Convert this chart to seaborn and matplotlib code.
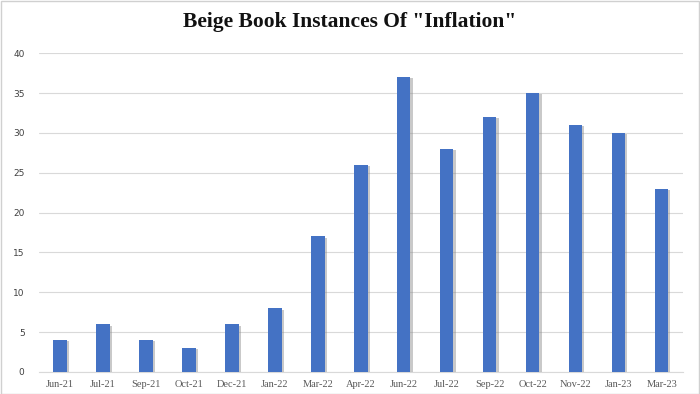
import matplotlib
matplotlib.use("Agg")
import matplotlib.pyplot as plt
import matplotlib.patheffects as pe
import seaborn as sns
import pandas as pd

categories = ["Jun-21", "Jul-21", "Sep-21", "Oct-21", "Dec-21", "Jan-22", "Mar-22",
              "Apr-22", "Jun-22", "Jul-22", "Sep-22", "Oct-22", "Nov-22", "Jan-23", "Mar-23"]
values = [4, 6, 4, 3, 6, 8, 17, 26, 37, 28, 32, 35, 31, 30, 23]
yticks = [0, 5, 10, 15, 20, 25, 30, 35, 40]
title = 'Beige Book Instances Of "Inflation"'

sns.set_theme(style="white")
plt.rcParams['font.family'] = ['DejaVu Sans']

df = pd.DataFrame({"month": categories, "count": values})

fig = plt.figure(figsize=(7, 3.94), dpi=100)
ax = fig.add_axes([0.055, 0.056, 0.921, 0.809])

sns.barplot(data=df, x="month", y="count", color="#4472C4", saturation=1,
            width=0.31, ax=ax, zorder=3, linewidth=0, edgecolor="none")
for p in ax.patches:
    p.set_path_effects([pe.SimplePatchShadow(offset=(1.5, -1.0), shadow_rgbFace="#888888", alpha=0.45),
                        pe.Normal()])

ax.set_ylim(0, 40)
ax.set_yticks(yticks)
ax.set_yticklabels([str(v) for v in yticks], fontsize=6.5, color="#404040")
ax.yaxis.grid(True, color="#d9d9d9", linewidth=0.8, zorder=0)
ax.set_xlabel("")
ax.set_ylabel("")
ax.tick_params(axis="x", labelsize=7.5, colors="#595959", length=0, pad=6)
ax.tick_params(axis="y", length=0, pad=10)
for lbl in ax.get_xticklabels():
    lbl.set_family("Liberation Serif")
for s in ["top", "right", "left"]:
    ax.spines[s].set_visible(False)
ax.spines["bottom"].set_color("#d9d9d9")
ax.spines["bottom"].set_linewidth(0.8)

fig.text(0.5, 0.945, title, ha="center", va="center", fontsize=15.5,
         fontweight="bold", family="Liberation Serif", color="#111111")

border = plt.Rectangle((0.001, 0.001), 0.997, 0.997, transform=fig.transFigure,
                       fill=False, edgecolor="#d0d0d0", linewidth=1)
fig.patches.append(border)

fig.savefig("out.png", dpi=100)
